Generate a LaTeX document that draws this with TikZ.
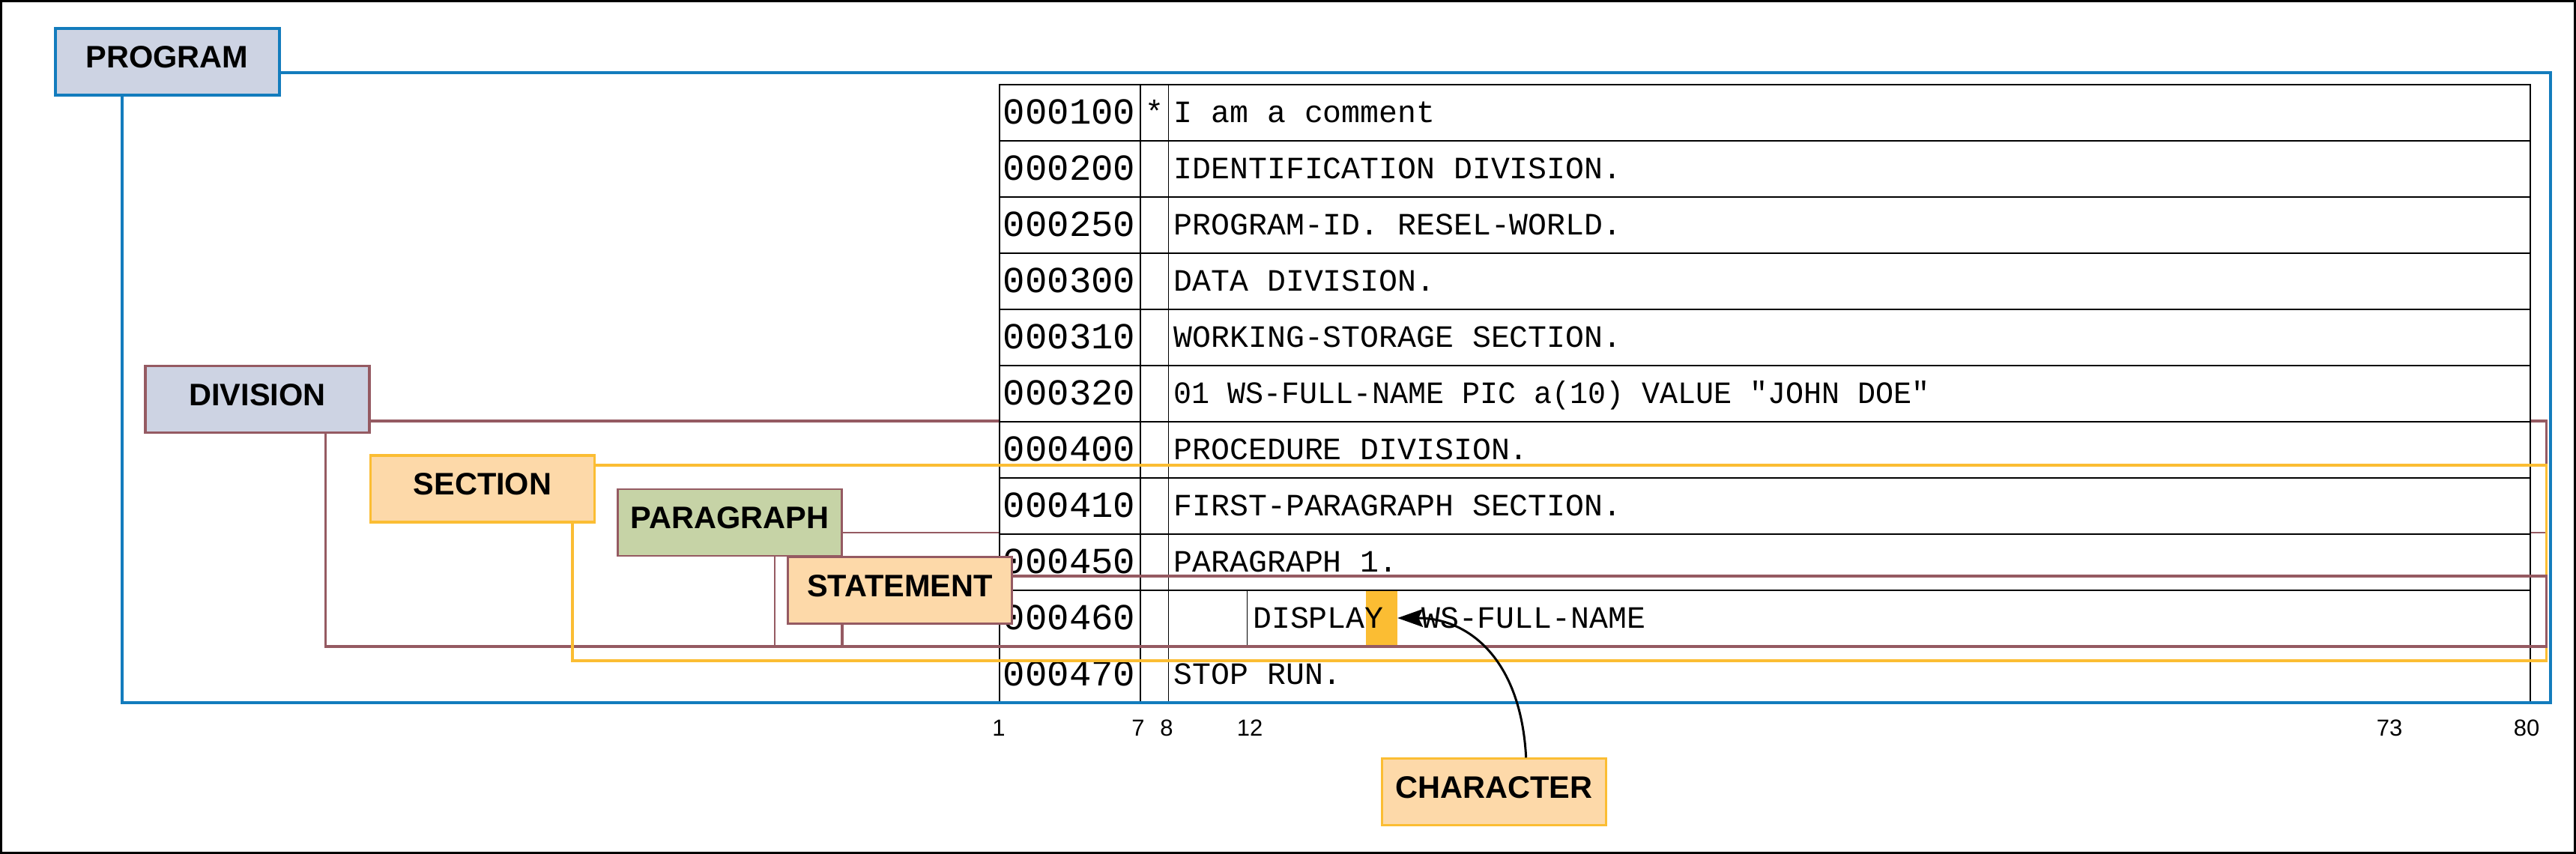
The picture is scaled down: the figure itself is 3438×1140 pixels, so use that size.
\documentclass[tikz,border=0pt]{standalone}
\usepackage{fontspec}
\setmainfont{Liberation Sans}
\newfontfamily\codefont{Liberation Mono}
\usetikzlibrary{arrows.meta,calc}
\definecolor{progblue}{HTML}{137CBD}
\definecolor{maroon}{HTML}{955A62}
\definecolor{boxgrey}{HTML}{CDD3E3}
\definecolor{peach}{HTML}{FDD9A9}
\definecolor{ygold}{HTML}{FBBD33}
\definecolor{pgreen}{HTML}{C6D3A6}
\begin{document}
\begin{tikzpicture}[x=1pt,y=-1pt,
  lbl/.style={draw, minimum width=299pt, minimum height=89pt, inner sep=0pt,
    font=\fontsize{41.5}{48}\selectfont\bfseries, text depth=12pt},
  progbox/.style={lbl, line width=4pt, draw=progblue, fill=boxgrey},
  divbox/.style={lbl, line width=3.5pt, draw=maroon, fill=boxgrey},
  secbox/.style={lbl, line width=3.5pt, draw=ygold, fill=peach},
  parbox/.style={lbl, line width=2.5pt, draw=maroon, fill=pgreen},
  stmbox/.style={lbl, line width=3.5pt, draw=maroon, fill=peach},
  chrbox/.style={lbl, line width=3pt, draw=ygold, fill=peach},
  progline/.style={draw=progblue, line width=4pt},
  divline/.style={draw=maroon, line width=3.5pt},
  parline/.style={draw=maroon, line width=2.5pt},
  secline/.style={draw=ygold, line width=3.5pt},
  tline/.style={draw=black, line width=1.2pt},
  codeline/.style={anchor=base west, inner sep=0pt, font=\codefont\fontsize{41.5}{48}\selectfont},
  numline/.style={anchor=base, inner sep=0pt, font=\codefont\fontsize{49}{56}\selectfont},
  collbl/.style={anchor=base, inner sep=0pt, font=\fontsize{31}{36}\selectfont},
  arr/.style={draw=black, line width=3pt, -{Stealth[length=34pt,width=24pt,inset=6pt]}}
]
\useasboundingbox (0,0) rectangle (3438,1140);
\fill[white] (0,0) rectangle (3438,1140);
\draw[line width=3pt] (1.5,1.5) rectangle (3436.5,1138.5);

% hierarchy frames behind the table
\draw[progline] (163,97) rectangle (3404,938);
\draw[divline] (434.5,562) rectangle (3398.5,863);
\draw[parline] (1034,711) rectangle (3398.5,863);

% table
\fill[white] (1334,113) rectangle (3377,936);
\draw[tline] (1334,936) -- (1334,113) -- (3377,113) -- (3377,936);
\foreach \yy in {188,263,...,863} \draw[tline] (1334,\yy) -- (3377,\yy);
\draw[tline] (1522,113) -- (1522,936);
\draw[tline] (1559.5,113) -- (1559.5,936);
\draw[tline] (1664.5,788) -- (1664.5,863);

\node[fill=ygold, minimum width=42pt, minimum height=72pt, inner sep=0pt] (hl) at (1844,825) {};

\node[numline] (n1) at (1427,165) {000100};
\node[numline] (n2) at (1427,240) {000200};
\node[numline] (n3) at (1427,315) {000250};
\node[numline] (n4) at (1427,390) {000300};
\node[numline] (n5) at (1427,465) {000310};
\node[numline] (n6) at (1427,540) {000320};
\node[numline] (n7) at (1427,615) {000400};
\node[numline] (n8) at (1427,690) {000410};
\node[numline] (n9) at (1427,765) {000450};
\node[numline] (n10) at (1427,840) {000460};
\node[numline] (n11) at (1427,915) {000470};

\node[codeline, anchor=base] (star) at (1540.5,163) {*};
\node[codeline] (c1) at (1566.5,163) {I am a comment};
\node[codeline] (c2) at (1566.5,238) {IDENTIFICATION DIVISION.};
\node[codeline] (c3) at (1566.5,313) {PROGRAM-ID. RESEL-WORLD.};
\node[codeline] (c4) at (1566.5,388) {DATA DIVISION.};
\node[codeline] (c5) at (1566.5,463) {WORKING-STORAGE SECTION.};
\node[codeline, xscale=0.965, transform shape] (c6) at (1566.5,538) {01 WS-FULL-NAME PIC a(10) VALUE "JOHN DOE"};
\node[codeline] (c7) at (1566.5,613) {PROCEDURE DIVISION.};
\node[codeline] (c8) at (1566.5,688) {FIRST-PARAGRAPH SECTION.};
\node[codeline] (c9) at (1566.5,763) {PARAGRAPH 1.};
\node[codeline] (c10a) at (1672,838) {DISPLAY};
\node[codeline] (c10b) at (1897,838) {WS-FULL-NAME};
\node[codeline] (c11) at (1566.5,913) {STOP RUN.};

% frames drawn over the table
\draw[secline] (764,621) rectangle (3398.5,882);
\draw[divline] (1124,769) rectangle (3398.5,863);

% column numbers
\node[collbl] (k1) at (1333,982) {1};
\node[collbl] (k7) at (1519,982) {7};
\node[collbl] (k8) at (1557,982) {8};
\node[collbl] (k12) at (1668,982) {12};
\node[collbl] (k73) at (3189,982) {73};
\node[collbl] (k80) at (3372,982) {80};

% labels
\node[progbox] (prog) at (223,82.5) {PROGRAM};
\node[divbox] (div) at (343.5,533) {DIVISION};
\node[secbox] (sec) at (644,652.3) {SECTION};
\node[parbox] (par) at (974,697.3) {PARAGRAPH};
\node[stmbox] (stm) at (1201,787.8) {STATEMENT};
\node[chrbox] (chr) at (1993.7,1057.3) {CHARACTER};

\draw[arr] ([xshift=43pt]chr.north) .. controls (2030,880) and (1960,825) .. (hl.east);
\end{tikzpicture}
\end{document}
